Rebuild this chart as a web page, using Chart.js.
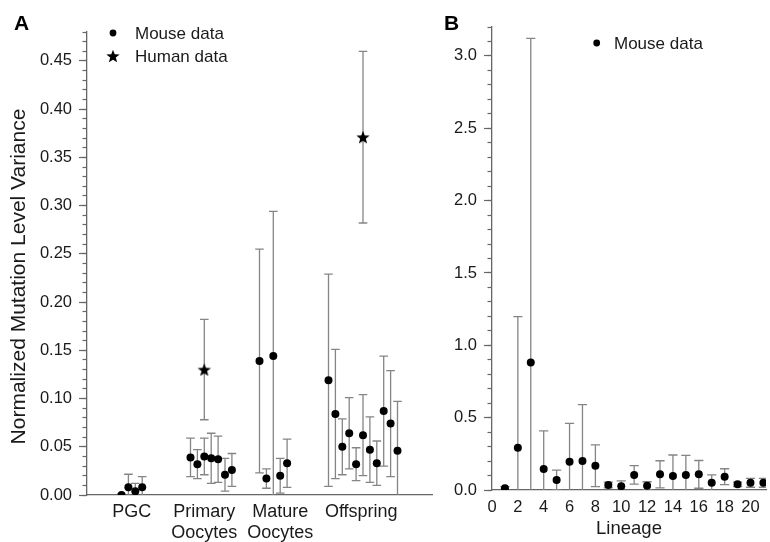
<!DOCTYPE html>
<html>
<head>
<meta charset="utf-8">
<script src="https://cdn.jsdelivr.net/npm/chart.js@4.4.1/dist/chart.umd.min.js"></script>
<style>
  body { margin: 0; background: #fff; }
  #wrap { position: relative; width: 770px; height: 542px; }
  #panel-a { position: absolute; left: 0; top: 0; }
  #panel-b { position: absolute; left: 440px; top: 0; }
</style>
</head>
<body>
<div id="wrap">
  <canvas id="panel-a" width="440" height="542"></canvas>
  <canvas id="panel-b" width="330" height="542"></canvas>
</div>
<script>
// ---- panel A data ----
const groupLabels = ["PGC", ["Primary", "Oocytes"], ["Mature", "Oocytes"], "Offspring"];
const groupLabelPos = [6.5, 17, 28, 39.75];

// sample slot of each mouse sample along the x axis
const mouseSlot = [5, 6, 7, 8,
  15, 16, 17, 18, 19, 20, 21,
  25, 26, 27, 28, 29,
  35, 36, 37, 38, 39, 40, 41, 42, 43, 44, 45];
const mouseVariance = [0.000, 0.008, 0.004, 0.008,
  0.039, 0.032, 0.040, 0.038, 0.037, 0.021, 0.026,
  0.139, 0.017, 0.144, 0.020, 0.033,
  0.119, 0.084, 0.050, 0.064, 0.032, 0.062, 0.047, 0.033, 0.087, 0.074, 0.046];
const mouseError = [0.001, 0.0135, 0.008, 0.011,
  0.020, 0.015, 0.019, 0.026, 0.024, 0.017, 0.017,
  0.116, 0.010, 0.150, 0.018, 0.025,
  0.110, 0.067, 0.029, 0.037, 0.017, 0.042, 0.034, 0.023, 0.057, 0.055, 0.051];

const humanSlot = [17, 40];
const humanVariance = [0.130, 0.371];
const humanError = [0.052, 0.089];

// ---- panel B data ----
const lineage = [1, 2, 3, 4, 5, 6, 7, 8, 9, 10, 11, 12, 13, 14, 15, 16, 17, 18, 19, 20, 21];
const lineageVariance = [0.012, 0.292, 0.882, 0.145, 0.069, 0.196, 0.200, 0.168, 0.035, 0.026, 0.104,
  0.030, 0.108, 0.097, 0.104, 0.108, 0.050, 0.092, 0.039, 0.050, 0.050];
const lineageError = [0.011, 0.906, 2.24, 0.263, 0.069, 0.265, 0.39, 0.144, 0.02, 0.037, 0.064,
  0.027, 0.094, 0.145, 0.136, 0.096, 0.054, 0.055, 0.015, 0.031, 0.031];

const axisColor = "#666666";
const textColor = "#1a1a1a";
const fontFamily = "'Liberation Sans', Arial, Helvetica, sans-serif";
Chart.defaults.font.family = fontFamily;
Chart.defaults.color = textColor;

function makeStar(r) {
  const c = document.createElement("canvas");
  const s = Math.ceil(r * 2) + 2;
  c.width = s;
  c.height = s;
  const g = c.getContext("2d");
  g.translate(s / 2, s / 2 + r * 0.1);
  g.beginPath();
  for (let k = 0; k < 10; k++) {
    const rad = k % 2 === 0 ? r : r * 0.42;
    const a = -Math.PI / 2 + (k * Math.PI) / 5;
    g.lineTo(rad * Math.cos(a), rad * Math.sin(a));
  }
  g.closePath();
  g.fillStyle = "#000";
  g.fill();
  return c;
}
const starImage = makeStar(7);

// vertical error bars, drawn under the points
const errorBars = {
  id: "errorBars",
  beforeDatasetsDraw(chart, args, opts) {
    const { ctx, chartArea } = chart;
    const yScale = chart.scales.y;
    ctx.save();
    ctx.beginPath();
    ctx.rect(chartArea.left, chartArea.top, chartArea.right - chartArea.left, chartArea.bottom - chartArea.top);
    ctx.clip();
    ctx.strokeStyle = opts.color;
    ctx.lineWidth = opts.width;
    chart.data.datasets.forEach((ds, i) => {
      if (!ds.errors) return;
      const meta = chart.getDatasetMeta(i);
      meta.data.forEach((pt, j) => {
        const v = ds.data[j].y;
        const e = ds.errors[j];
        const top = yScale.getPixelForValue(v + e);
        const bot = yScale.getPixelForValue(v - e);
        ctx.beginPath();
        ctx.moveTo(pt.x, top);
        ctx.lineTo(pt.x, bot);
        ctx.moveTo(pt.x - opts.cap, top);
        ctx.lineTo(pt.x + opts.cap, top);
        ctx.moveTo(pt.x - opts.cap, bot);
        ctx.lineTo(pt.x + opts.cap, bot);
        ctx.stroke();
      });
    });
    ctx.restore();
  },
};

// panel letter, side title and legend inside the plot
const panelDecor = {
  id: "panelDecor",
  afterDraw(chart, args, opts) {
    const { ctx, chartArea } = chart;
    ctx.save();
    ctx.fillStyle = "#000";
    ctx.font = "bold 21px " + fontFamily;
    ctx.textBaseline = "alphabetic";
    ctx.fillText(opts.letter, opts.letterX, 30);

    if (opts.sideTitle) {
      ctx.save();
      ctx.translate(opts.sideTitleX, (chartArea.top + chartArea.bottom) / 2 + opts.sideTitleShift);
      ctx.rotate(-Math.PI / 2);
      ctx.font = "21px " + fontFamily;
      ctx.textAlign = "center";
      ctx.textBaseline = "middle";
      ctx.fillStyle = textColor;
      ctx.fillText(opts.sideTitle, 0, 0);
      ctx.restore();
    }

    ctx.font = "17px " + fontFamily;
    ctx.textBaseline = "middle";
    chart.data.datasets.forEach((ds, i) => {
      const y = opts.y + i * opts.rowGap;
      ctx.fillStyle = "#000";
      if (ds.pointStyle instanceof HTMLCanvasElement) {
        ctx.drawImage(ds.pointStyle, opts.x - ds.pointStyle.width / 2, y - ds.pointStyle.height / 2);
      } else {
        ctx.beginPath();
        ctx.arc(opts.x, y, ds.pointRadius - 0.6, 0, Math.PI * 2);
        ctx.fill();
      }
      ctx.fillStyle = textColor;
      ctx.fillText(ds.label, opts.textX, y + 1);
    });
    ctx.restore();
  },
};

const tickFont = { size: 16.5 };

new Chart(document.getElementById("panel-a"), {
  type: "scatter",
  plugins: [errorBars, panelDecor],
  data: {
    datasets: [
      {
        label: "Mouse data",
        data: mouseSlot.map((x, i) => ({ x: x, y: mouseVariance[i] })),
        errors: mouseError,
        pointStyle: "circle",
        pointRadius: 4,
        backgroundColor: "#000",
        borderWidth: 0,
        clip: 0,
      },
      {
        label: "Human data",
        data: humanSlot.map((x, i) => ({ x: x, y: humanVariance[i] })),
        errors: humanError,
        pointStyle: starImage,
        pointRadius: 7,
        clip: 0,
      },
    ],
  },
  options: {
    responsive: false,
    animation: false,
    events: [],
    layout: { padding: { top: 32, right: 3 } },
    plugins: {
      legend: { display: false },
      tooltip: { enabled: false },
      errorBars: { color: "#858585", width: 1.3, cap: 4.3 },
      panelDecor: {
        letter: "A", letterX: 14, x: 113, textX: 135, y: 33, rowGap: 23,
        sideTitle: "Normalized Mutation Level Variance", sideTitleX: 19, sideTitleShift: 13,
      },
    },
    scales: {
      x: {
        type: "linear",
        min: 0,
        max: 50,
        afterBuildTicks: (axis) => {
          axis.ticks = groupLabelPos.map((v) => ({ value: v }));
        },
        afterFit: (axis) => {
          axis.height = 47;
        },
        ticks: {
          autoSkip: false,
          maxRotation: 0,
          padding: 6,
          font: { size: 18 },
          callback: (value, index) => groupLabels[index],
        },
        grid: { drawOnChartArea: false, drawTicks: false },
        border: { color: axisColor, width: 1.3 },
      },
      y: {
        position: "left",
        weight: 1,
        min: 0,
        max: 0.48,
        ticks: {
          stepSize: 0.05,
          includeBounds: false,
          padding: 7,
          font: tickFont,
          callback: (v) => v.toFixed(2),
        },
        grid: { drawOnChartArea: false, tickLength: 8, tickColor: axisColor, tickWidth: 1.2 },
        border: { color: axisColor, width: 1.3 },
        afterFit: (axis) => {
          axis.width = 87;
        },
      },
      yMinor: {
        position: "left",
        weight: 0,
        min: 0,
        max: 0.48,
        ticks: { display: false, stepSize: 0.01, maxTicksLimit: 100 },
        grid: { drawOnChartArea: false, tickLength: 4.5, tickColor: axisColor, tickWidth: 1.2 },
        border: { display: false },
        afterFit: (axis) => {
          axis.width = 0;
        },
      },
    },
  },
});

new Chart(document.getElementById("panel-b"), {
  type: "scatter",
  plugins: [errorBars, panelDecor],
  data: {
    datasets: [
      {
        label: "Mouse data",
        data: lineage.map((x, i) => ({ x: x, y: lineageVariance[i] })),
        errors: lineageError,
        pointStyle: "circle",
        pointRadius: 4,
        backgroundColor: "#000",
        borderWidth: 0,
        clip: 0,
      },
    ],
  },
  options: {
    responsive: false,
    animation: false,
    events: [],
    layout: { padding: { top: 27, right: 0 } },
    plugins: {
      legend: { display: false },
      tooltip: { enabled: false },
      errorBars: { color: "#858585", width: 1.3, cap: 4.6 },
      panelDecor: { letter: "B", letterX: 4, x: 156.7, textX: 174, y: 43, rowGap: 23 },
    },
    scales: {
      x: {
        type: "linear",
        min: 0,
        max: 21.2,
        ticks: {
          stepSize: 2,
          includeBounds: false,
          autoSkip: false,
          maxRotation: 0,
          padding: 8,
          font: tickFont,
        },
        grid: { drawOnChartArea: false, drawTicks: false },
        border: { color: axisColor, width: 1.3 },
        title: {
          display: true,
          text: "Lineage",
          font: { size: 18.5 },
          padding: { top: 0, bottom: 2 },
        },
        afterFit: (axis) => {
          axis.height = 52;
        },
      },
      y: {
        position: "left",
        weight: 1,
        min: 0,
        max: 3.2,
        ticks: {
          stepSize: 0.5,
          includeBounds: false,
          padding: 7,
          font: tickFont,
          callback: (v) => v.toFixed(1),
        },
        grid: { drawOnChartArea: false, tickLength: 8, tickColor: axisColor, tickWidth: 1.2 },
        border: { color: axisColor, width: 1.3 },
        afterFit: (axis) => {
          axis.width = 52;
        },
      },
      yMinor: {
        position: "left",
        weight: 0,
        min: 0,
        max: 3.2,
        ticks: { display: false, stepSize: 0.1, maxTicksLimit: 100 },
        grid: { drawOnChartArea: false, tickLength: 4.5, tickColor: axisColor, tickWidth: 1.2 },
        border: { display: false },
        afterFit: (axis) => {
          axis.width = 0;
        },
      },
    },
  },
});
</script>
</body>
</html>
